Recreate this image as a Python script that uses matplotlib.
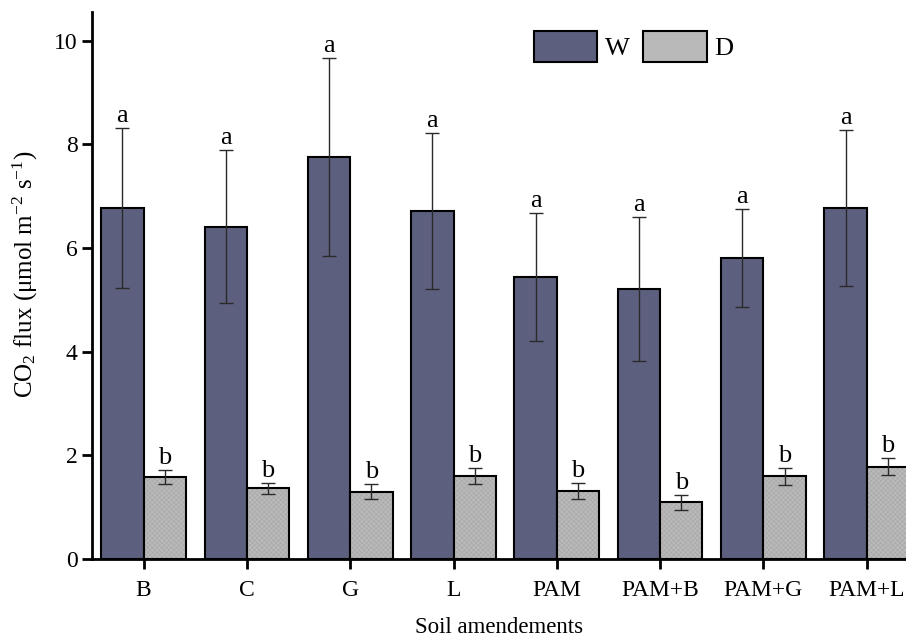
import numpy as np
import matplotlib
matplotlib.use("Agg")
import matplotlib.pyplot as plt
from matplotlib.patches import Patch

plt.rcParams['font.family'] = ['Liberation Serif', 'DejaVu Serif']
plt.rcParams['mathtext.fontset'] = 'custom'
plt.rcParams['mathtext.rm'] = 'Liberation Serif'
plt.rcParams['mathtext.it'] = 'Liberation Serif:italic'
plt.rcParams['hatch.linewidth'] = 0.3

categories = ['B', 'C', 'G', 'L', 'PAM', 'PAM+B', 'PAM+G', 'PAM+L']
w_values = [6.77, 6.41, 7.75, 6.71, 5.44, 5.21, 5.81, 6.77]
w_errors = [1.54, 1.47, 1.91, 1.50, 1.24, 1.39, 0.95, 1.51]
d_values = [1.58, 1.36, 1.30, 1.60, 1.31, 1.09, 1.59, 1.78]
d_errors = [0.14, 0.10, 0.15, 0.16, 0.15, 0.145, 0.165, 0.16]
w_letters = ['a'] * 8
d_letters = ['b'] * 8
series_names = ['W', 'D']
yticks = [0, 2, 4, 6, 8, 10]

fig = plt.figure(figsize=(9.06, 6.38), dpi=100)
ax = fig.add_axes([0.1015, 0.124, 0.8985, 0.857])

x = np.arange(len(categories))
width = 0.41
w_color = '#5c607e'
d_color = '#b9b9b9'
d_texture = '#a2a2a2'

ax.bar(x - width / 2, w_values, width, color=w_color, edgecolor='black', linewidth=1.5, zorder=2)
# D bars: textured fill, then black outline
ax.bar(x + width / 2, d_values, width, color=d_color, edgecolor=d_texture, linewidth=0,
       hatch='xxxxxxx', zorder=2)
ax.bar(x + width / 2, d_values, width, facecolor='none', edgecolor='black', linewidth=1.5, zorder=2)

ax.errorbar(x - width / 2, w_values, yerr=w_errors, fmt='none', ecolor='#2a2a2a',
            elinewidth=1.0, capsize=5, capthick=1.0, zorder=3)
ax.errorbar(x + width / 2, d_values, yerr=d_errors, fmt='none', ecolor='#2a2a2a',
            elinewidth=1.0, capsize=5, capthick=1.0, zorder=3)

for xi, v, e, t in zip(x - width / 2, w_values, w_errors, w_letters):
    ax.text(xi, v + e + 0.02, t, ha='center', va='bottom', fontsize=19)
for xi, v, e, t in zip(x + width / 2, d_values, d_errors, d_letters):
    ax.text(xi, v + e + 0.02, t, ha='center', va='bottom', fontsize=19)

ax.set_xlim(-0.5, 7.38)
ax.set_ylim(0, 10.55)
ax.set_yticks(yticks)
ax.set_xticks(x)
ax.set_xticklabels(categories)
ax.tick_params(axis='both', direction='out', length=7, width=2, labelsize=17)
ax.tick_params(axis='x', pad=8)
for s in ['top', 'right']:
    ax.spines[s].set_visible(False)
for s in ['left', 'bottom']:
    ax.spines[s].set_linewidth(2)

ax.set_ylabel(r'CO$_2$ flux (μmol m$^{-2}$ s$^{-1}$)', fontsize=18)
ax.yaxis.set_label_coords(-0.064, 0.52)
ax.set_xlabel('Soil amendements', fontsize=16.5, labelpad=12)

handles = [Patch(facecolor=w_color, edgecolor='black', linewidth=1.5),
           Patch(facecolor=d_color, edgecolor='black', linewidth=1.5)]
ax.legend(handles, series_names, ncol=2, frameon=False, fontsize=19,
          loc='upper left', bbox_to_anchor=(0.543, 0.965), borderaxespad=0, borderpad=0,
          handlelength=2.4, handleheight=1.4, columnspacing=0.5, handletextpad=0.3)

fig.savefig('out.png', dpi=100)
